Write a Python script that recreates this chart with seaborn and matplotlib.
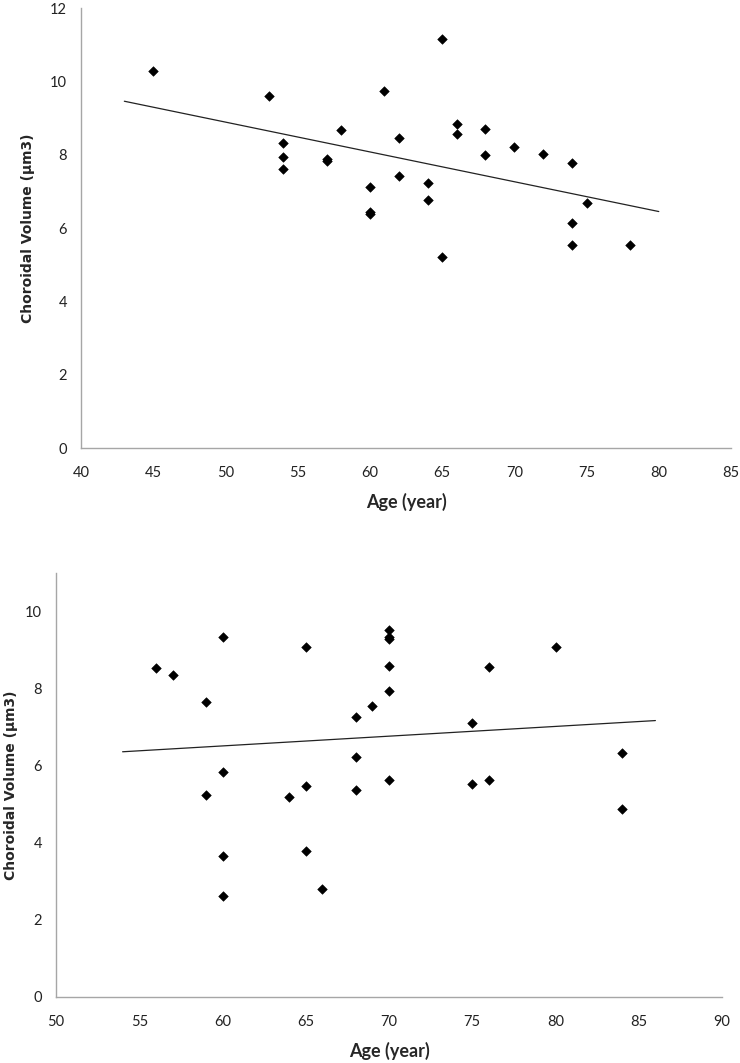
import numpy as np
import pandas as pd
import matplotlib
matplotlib.use('Agg')
import matplotlib.pyplot as plt
import seaborn as sns

# top panel: age vs choroidal volume
age_top = [45, 53, 54, 54, 54, 57, 57, 58, 60, 60, 60, 61, 62, 62, 64, 64,
           65, 65, 66, 66, 68, 68, 70, 72, 74, 74, 74, 75, 78]
vol_top = [10.28, 9.61, 8.33, 7.94, 7.60, 7.87, 7.84, 8.68, 7.12, 6.44, 6.38,
           9.73, 8.45, 7.42, 7.23, 6.76, 11.16, 5.21, 8.85, 8.56, 8.69, 7.99,
           8.22, 8.01, 7.76, 6.13, 5.55, 6.69, 5.55]

# bottom panel
age_bot = [56, 57, 59, 59, 60, 60, 60, 60, 64, 65, 65, 65, 66, 68, 68, 68, 69,
           70, 70, 70, 70, 70, 70, 75, 75, 76, 76, 80, 84, 84]
vol_bot = [8.54, 8.36, 7.65, 5.25, 9.34, 5.83, 3.66, 2.63, 5.20, 9.09, 5.48,
           3.80, 2.80, 7.26, 6.22, 5.38, 7.56, 9.51, 9.34, 9.28, 8.58, 7.94,
           5.64, 7.11, 5.53, 8.56, 5.64, 9.07, 6.33, 4.88]

top_xticks = [40, 45, 50, 55, 60, 65, 70, 75, 80, 85]
top_yticks = [0, 2, 4, 6, 8, 10, 12]
bot_xticks = [50, 55, 60, 65, 70, 75, 80, 85, 90]
bot_yticks = [0, 2, 4, 6, 8, 10]

sns.set_style('white')
plt.rcParams['font.family'] = ['Lato', 'DejaVu Sans']

fig = plt.figure(figsize=(7.4, 10.63), dpi=100)
W, H = 740, 1063
ax1 = fig.add_axes([81 / W, 1 - 448 / H, 650 / W, 440 / H])
ax2 = fig.add_axes([56 / W, 1 - 997 / H, 666 / W, 424 / H])


def panel(ax, ages, vols, xticks, yticks, ylim, ylab_x):
    df = pd.DataFrame({'age': ages, 'vol': vols})
    sns.scatterplot(data=df, x='age', y='vol', marker='D', color='black',
                    s=24, edgecolor='black', linewidth=0.4, ax=ax, zorder=3)
    # linear trendline, extended 2 years each side like the spreadsheet
    slope, icpt = np.polyfit(df['age'], df['vol'], 1)
    tx = np.array([df['age'].min() - 2, df['age'].max() + 2])
    trend = pd.DataFrame({'age': tx, 'vol': icpt + slope * tx})
    sns.lineplot(data=trend, x='age', y='vol', color='#222222', linewidth=0.9, ax=ax)
    ax.set_xlim(xticks[0], xticks[-1])
    ax.set_ylim(*ylim)
    ax.set_xticks(xticks)
    ax.set_yticks(yticks)
    ax.tick_params(length=0, labelsize=10.5, colors='#222222')
    ax.tick_params(axis='x', pad=13)
    ax.tick_params(axis='y', pad=10)
    for side in ['top', 'right']:
        ax.spines[side].set_visible(False)
    for side in ['left', 'bottom']:
        ax.spines[side].set_color('#a6a6a6')
        ax.spines[side].set_linewidth(1.0)
    ax.set_xlabel('Age (year)', fontsize=13, fontweight='bold', labelpad=9)
    ax.set_ylabel('Choroidal Volume (µm3)', fontsize=10, fontweight='bold',
                  fontfamily='DejaVu Sans')
    ax.yaxis.set_label_coords(ylab_x, 0.5)


panel(ax1, age_top, vol_top, top_xticks, top_yticks, (0, 12), -0.071)
panel(ax2, age_bot, vol_bot, bot_xticks, bot_yticks, (0, 11), -0.057)

fig.savefig('out.png', dpi=100)
